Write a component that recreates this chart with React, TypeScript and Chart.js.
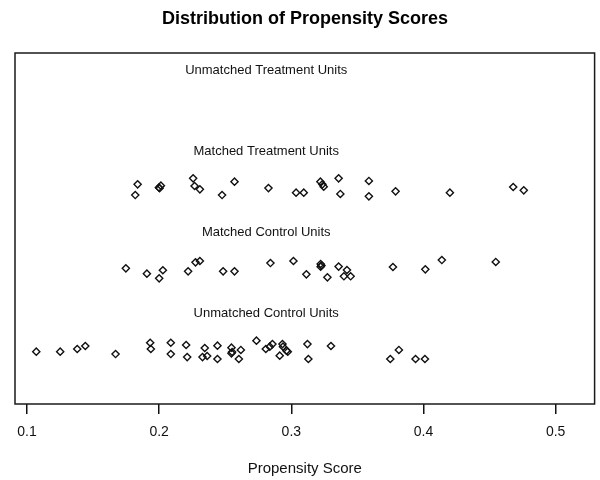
import React, { useEffect, useRef } from "react";
import { Chart, registerables } from "chart.js";

Chart.register(...registerables);

const chartTitle = "Distribution of Propensity Scores";
const xAxisTitle = "Propensity Score";
const xTicks = [0.1, 0.2, 0.3, 0.4, 0.5];
const xMin = 0.0909;
const xMax = 0.5295;
const yMin = -0.16;
const yMax = 4.16;

const groupLabels = [
  "Unmatched Treatment Units",
  "Matched Treatment Units",
  "Matched Control Units",
  "Unmatched Control Units",
];
const groupLabelY = [4, 3, 2, 1];
const groupLabelX = 0.281;

// Matched treatment units (jittered around 2.5)
const matchedTreatX = [
  0.1837, 0.1819, 0.2013, 0.2003, 0.1998, 0.2257, 0.2268, 0.2308, 0.2476, 0.257,
  0.2827, 0.3036, 0.3094, 0.322, 0.3235, 0.3245, 0.3358, 0.3371, 0.3587, 0.3587,
  0.3789, 0.42, 0.4679, 0.4759,
];
const matchedTreatY = [
  2.544, 2.412, 2.527, 2.495, 2.505, 2.618, 2.523, 2.482, 2.412, 2.576,
  2.498, 2.441, 2.441, 2.576, 2.544, 2.515, 2.618, 2.425, 2.585, 2.396,
  2.458, 2.441, 2.511, 2.47,
];

// Matched control units (jittered around 1.5)
const matchedCtrlX = [
  0.1748, 0.1907, 0.2, 0.2028, 0.2219, 0.2275, 0.2308, 0.2484, 0.257, 0.2842,
  0.3016, 0.3114, 0.3222, 0.3222, 0.3228, 0.3273, 0.3358, 0.3398, 0.3421, 0.3449,
  0.3769, 0.4014, 0.4139, 0.4547,
];
const matchedCtrlY = [
  1.51, 1.444, 1.387, 1.486, 1.473, 1.584, 1.6, 1.473, 1.473, 1.575,
  1.6, 1.436, 1.563, 1.53, 1.545, 1.399, 1.531, 1.412, 1.489, 1.412,
  1.526, 1.497, 1.612, 1.588,
];

// Unmatched control units (jittered around 0.5)
const unmatchedCtrlX = [
  0.107, 0.1251, 0.138, 0.1441, 0.167, 0.1932, 0.1937, 0.2088, 0.2088, 0.2204,
  0.2212, 0.2345, 0.2328, 0.2363, 0.2441, 0.2441, 0.2547, 0.2552, 0.2547, 0.2618,
  0.2603, 0.2736, 0.2807, 0.2837, 0.2857, 0.2933, 0.2937, 0.2912, 0.2973, 0.2963,
  0.3122, 0.3129, 0.33, 0.3749, 0.3814, 0.394, 0.4011,
];
const unmatchedCtrlY = [
  0.484, 0.484, 0.517, 0.554, 0.455, 0.594, 0.517, 0.594, 0.455, 0.566,
  0.418, 0.529, 0.418, 0.431, 0.558, 0.394, 0.533, 0.48, 0.464, 0.505,
  0.394, 0.619, 0.517, 0.546, 0.578, 0.578, 0.546, 0.435, 0.484, 0.496,
  0.578, 0.394, 0.554, 0.394, 0.505, 0.394, 0.394,
];

const FONT = "'Liberation Sans', Arial, Helvetica, sans-serif";

const toPoints = (xs: number[], ys: number[]) => xs.map((x, i) => ({ x, y: ys[i] }));

const boxAndLabels = {
  id: "boxAndLabels",
  afterDraw(chart: any) {
    const { ctx, chartArea, scales } = chart;
    ctx.save();
    ctx.strokeStyle = "#1a1a1a";
    ctx.lineWidth = 1.5;
    ctx.strokeRect(
      chartArea.left,
      chartArea.top,
      chartArea.right - chartArea.left,
      chartArea.bottom - chartArea.top
    );
    ctx.fillStyle = "#111";
    ctx.font = `13px ${FONT}`;
    ctx.textAlign = "center";
    ctx.textBaseline = "middle";
    groupLabels.forEach((label, i) => {
      const px = scales.x.getPixelForValue(groupLabelX);
      const py = scales.y.getPixelForValue(groupLabelY[i]);
      ctx.fillText(label, px, py + 4);
    });
    ctx.restore();
  },
};

export default function App() {
  const canvasRef = useRef<HTMLCanvasElement | null>(null);

  useEffect(() => {
    if (!canvasRef.current) return;
    const pointStyle = {
      pointStyle: "rectRot" as const,
      pointRadius: 3.6,
      pointBorderWidth: 1.4,
      pointBackgroundColor: "rgba(0,0,0,0)",
      pointBorderColor: "#111",
      showLine: false,
    };
    const chart = new Chart(canvasRef.current, {
      type: "scatter",
      data: {
        datasets: [
          { label: "Matched Treatment Units", data: toPoints(matchedTreatX, matchedTreatY), ...pointStyle },
          { label: "Matched Control Units", data: toPoints(matchedCtrlX, matchedCtrlY), ...pointStyle },
          { label: "Unmatched Control Units", data: toPoints(unmatchedCtrlX, unmatchedCtrlY), ...pointStyle },
        ],
      },
      options: {
        responsive: false,
        animation: false,
        devicePixelRatio: 1,
        layout: { padding: { left: 15, right: 5, top: 0, bottom: 2 } },
        plugins: {
          legend: { display: false },
          tooltip: { enabled: false },
          title: {
            display: true,
            text: chartTitle,
            color: "#000",
            font: { family: FONT, size: 18, weight: "bold" },
            padding: { top: 8, bottom: 23.4 },
          },
        },
        scales: {
          x: {
            type: "linear",
            position: "bottom",
            min: xMin,
            max: xMax,
            afterBuildTicks: (scale: any) => {
              scale.ticks = xTicks.map((v) => ({ value: v }));
            },
            grid: {
              display: true,
              drawOnChartArea: false,
              drawTicks: true,
              tickLength: 10,
              color: "#111",
              lineWidth: 1.5,
            },
            border: { display: false },
            ticks: {
              color: "#111",
              font: { family: FONT, size: 14 },
              padding: 9.6,
              maxRotation: 0,
              autoSkip: false,
              callback: (v: any) => Number(v).toFixed(1),
            },
            title: {
              display: true,
              text: xAxisTitle,
              color: "#111",
              font: { family: FONT, size: 15 },
              padding: { top: 10, bottom: 0 },
            },
          },
          y: {
            type: "linear",
            display: false,
            min: yMin,
            max: yMax,
          },
        },
      },
      plugins: [boxAndLabels],
    });
    return () => chart.destroy();
  }, []);

  return (
    <div style={{ position: "absolute", left: 0, top: 0, width: 600, height: 480, background: "#fff" }}>
      <canvas ref={canvasRef} width={600} height={480} style={{ display: "block" }} />
    </div>
  );
}
